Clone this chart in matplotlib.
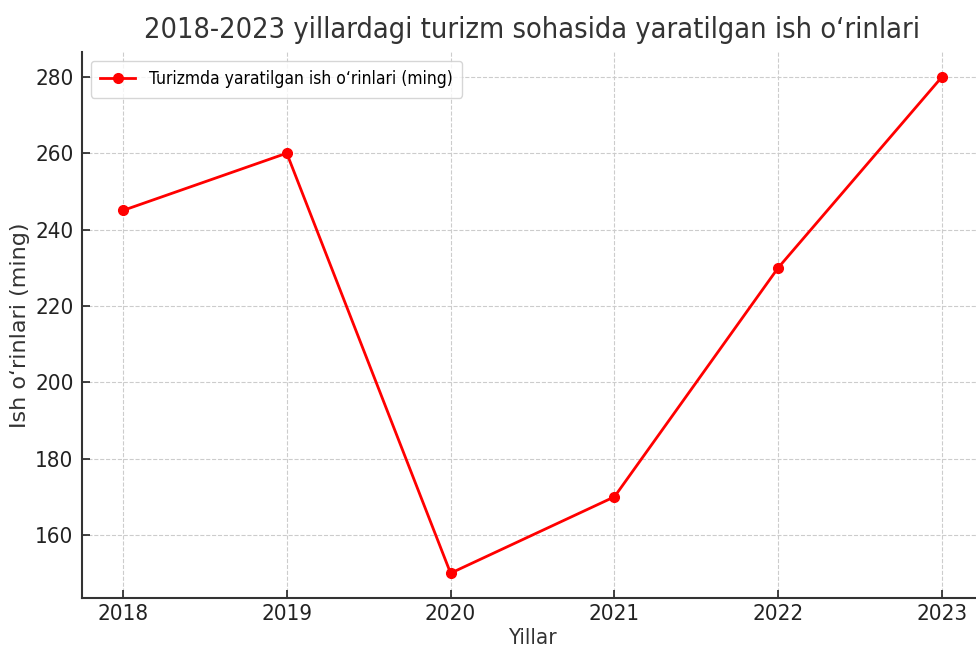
import matplotlib
matplotlib.use('Agg')
import matplotlib.pyplot as plt

# data
years = [2018, 2019, 2020, 2021, 2022, 2023]
jobs = [245, 260, 150, 170, 230, 280]
y_ticks = [160, 180, 200, 220, 240, 260, 280]

title = '2018-2023 yillardagi turizm sohasida yaratilgan ish o\u2018rinlari'
legend_label = 'Turizmda yaratilgan ish o\u2018rinlari (ming)'

# the reference text looks horizontally squeezed, DejaVu Sans Condensed is closest
plt.rcParams['font.family'] = ['DejaVu Sans']
plt.rcParams['font.stretch'] = 'condensed'

fig = plt.figure(figsize=(9.76, 6.53), dpi=100)
ax = fig.add_axes([82 / 976, 55 / 653, (983 - 82) / 976, (598 - 52) / 653])

ax.plot(years, jobs, color='red', marker='o', linewidth=2, markersize=7, label=legend_label)

ax.set_xticks(years)
ax.set_yticks(y_ticks)
ax.set_xlim(2017.75, 2023.25)
ax.set_ylim(143.5, 286.5)

ax.grid(True, linestyle='--', color='#cccccc', linewidth=0.8)
ax.spines['top'].set_visible(False)
ax.spines['right'].set_visible(False)
for s in ['left', 'bottom']:
    ax.spines[s].set_linewidth(1.5)
    ax.spines[s].set_color('#333333')
ax.tick_params(labelsize=16, colors='#222222', direction='in', length=6, width=1.2)
ax.tick_params(axis='x', pad=4)
ax.tick_params(axis='y', pad=6)

ax.set_title(title, fontsize=20.7, color='#333333', pad=10)
ax.set_xlabel('Yillar', fontsize=16, color='#333333', labelpad=3)
ax.set_ylabel('Ish o\u2018rinlari (ming)', fontsize=16, color='#333333',
              stretch='normal')
ax.yaxis.set_label_coords(-0.058, 0.5)

ax.legend(loc='upper left', fontsize=12.5, frameon=True, edgecolor='#cccccc',
          handlelength=2, borderpad=0.55)

fig.savefig('out.png', dpi=100)
